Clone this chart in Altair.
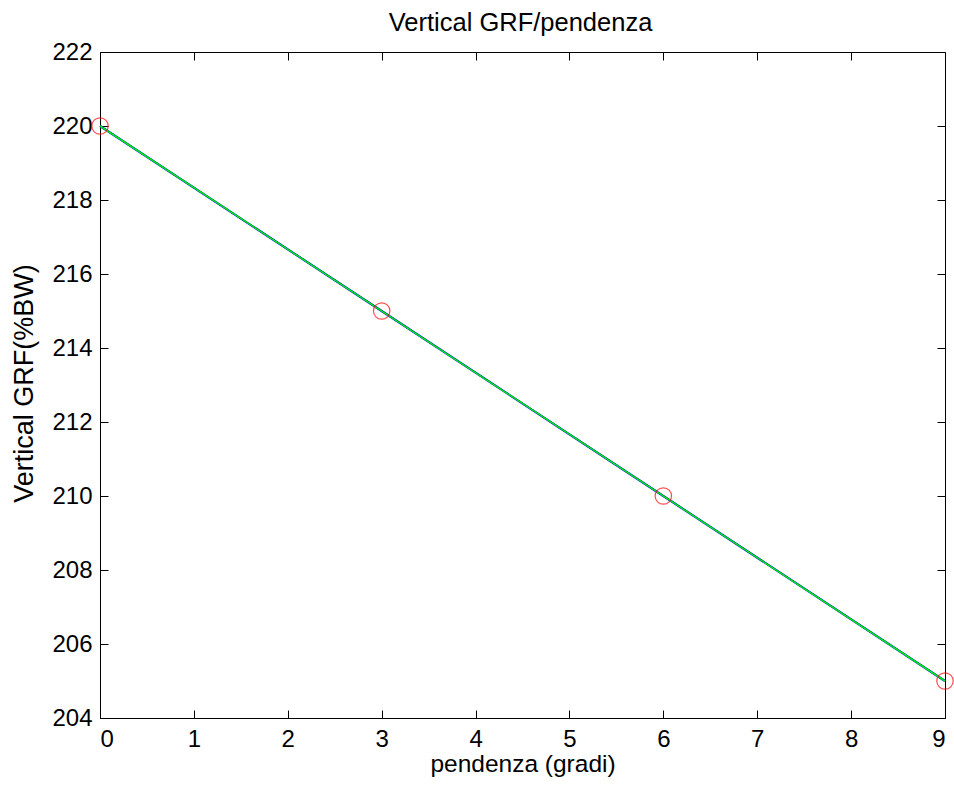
import altair as alt
import pandas as pd

# Data
pendenza = [0, 3, 6, 9]
grf = [220, 215, 210, 205]
fit_x = [0, 9]
fit_y = [220, 205]
x_ticks = [0, 1, 2, 3, 4, 5, 6, 7, 8, 9]
y_ticks = [204, 206, 208, 210, 212, 214, 216, 218, 220, 222]
chart_title = "Vertical GRF/pendenza"

pts = pd.DataFrame({"x": pendenza, "y": grf})
fit = pd.DataFrame({"x": fit_x, "y": fit_y})

FONT = "Liberation Sans"
W, H = 845, 666

xs = alt.Scale(domain=[0, 9], nice=False, zero=False)
ys = alt.Scale(domain=[204, 222], nice=False, zero=False)

x_axis = alt.Axis(
    orient="bottom", values=x_ticks, format="d", domain=False, grid=False,
    offset=-8, tickSize=8, tickColor="black", tickWidth=1,
    labelFont=FONT, labelFontSize=24, labelColor="black", labelPadding=9,
    title="pendenza (gradi)", titleFont=FONT, titleFontSize=24.5,
    titleFontWeight="normal", titleColor="black",
    titleBaseline="alphabetic", titleY=61,
)
y_axis = alt.Axis(
    orient="left", values=y_ticks, format="d", domain=False, grid=False,
    offset=-8, tickSize=8, tickColor="black", tickWidth=1,
    labelFont=FONT, labelFontSize=24, labelColor="black", labelPadding=8,
    title="Vertical GRF(%BW)", titleFont=FONT, titleFontSize=27,
    titleFontWeight="normal", titleColor="black",
    titleBaseline="alphabetic", titleX=-76, titleY=H / 2 - 2, titleAngle=270,
    titleAlign="center",
)

blue = alt.Chart(pts).mark_line(color="#0000ff", strokeWidth=2.2).encode(
    x=alt.X("x:Q", scale=xs, axis=x_axis),
    y=alt.Y("y:Q", scale=ys, axis=y_axis),
)
green = alt.Chart(fit).mark_line(color="#00f000", strokeWidth=1.5).encode(
    x=alt.X("x:Q", scale=xs),
    y=alt.Y("y:Q", scale=ys),
)
circles = alt.Chart(pts).mark_point(
    shape="circle", filled=False, color="#ff0000", size=270, strokeWidth=1.2
).encode(
    x=alt.X("x:Q", scale=xs),
    y=alt.Y("y:Q", scale=ys),
)

main = alt.layer(blue, green, circles)

frame = alt.Chart(pts).mark_point(opacity=0).encode(
    x=alt.X("x:Q", scale=xs, axis=alt.Axis(
        orient="top", values=x_ticks, labels=False, domain=False, grid=False,
        offset=-8, tickSize=8, tickColor="black", tickWidth=1,
        title=chart_title, titleFont=FONT, titleFontSize=25.5,
        titleFontWeight="normal", titleColor="black",
        titleBaseline="alphabetic", titleX=420, titleY=-30,
        titleAlign="center")),
    y=alt.Y("y:Q", scale=ys, axis=alt.Axis(
        orient="right", values=y_ticks, labels=False, domain=False, grid=False,
        offset=-8, tickSize=8, tickColor="black", tickWidth=1, title=None)),
)

chart = alt.layer(main, frame).resolve_scale(
    x="independent", y="independent"
).properties(
    width=W,
    height=H,
    autosize=alt.AutoSizeParams(type="none"),
    padding={"left": 100, "top": 52, "right": 9, "bottom": 69},
    background="white",
).configure_view(stroke="black", strokeWidth=1)

chart.save("out.html", embed_options={"renderer": "svg", "actions": False})
